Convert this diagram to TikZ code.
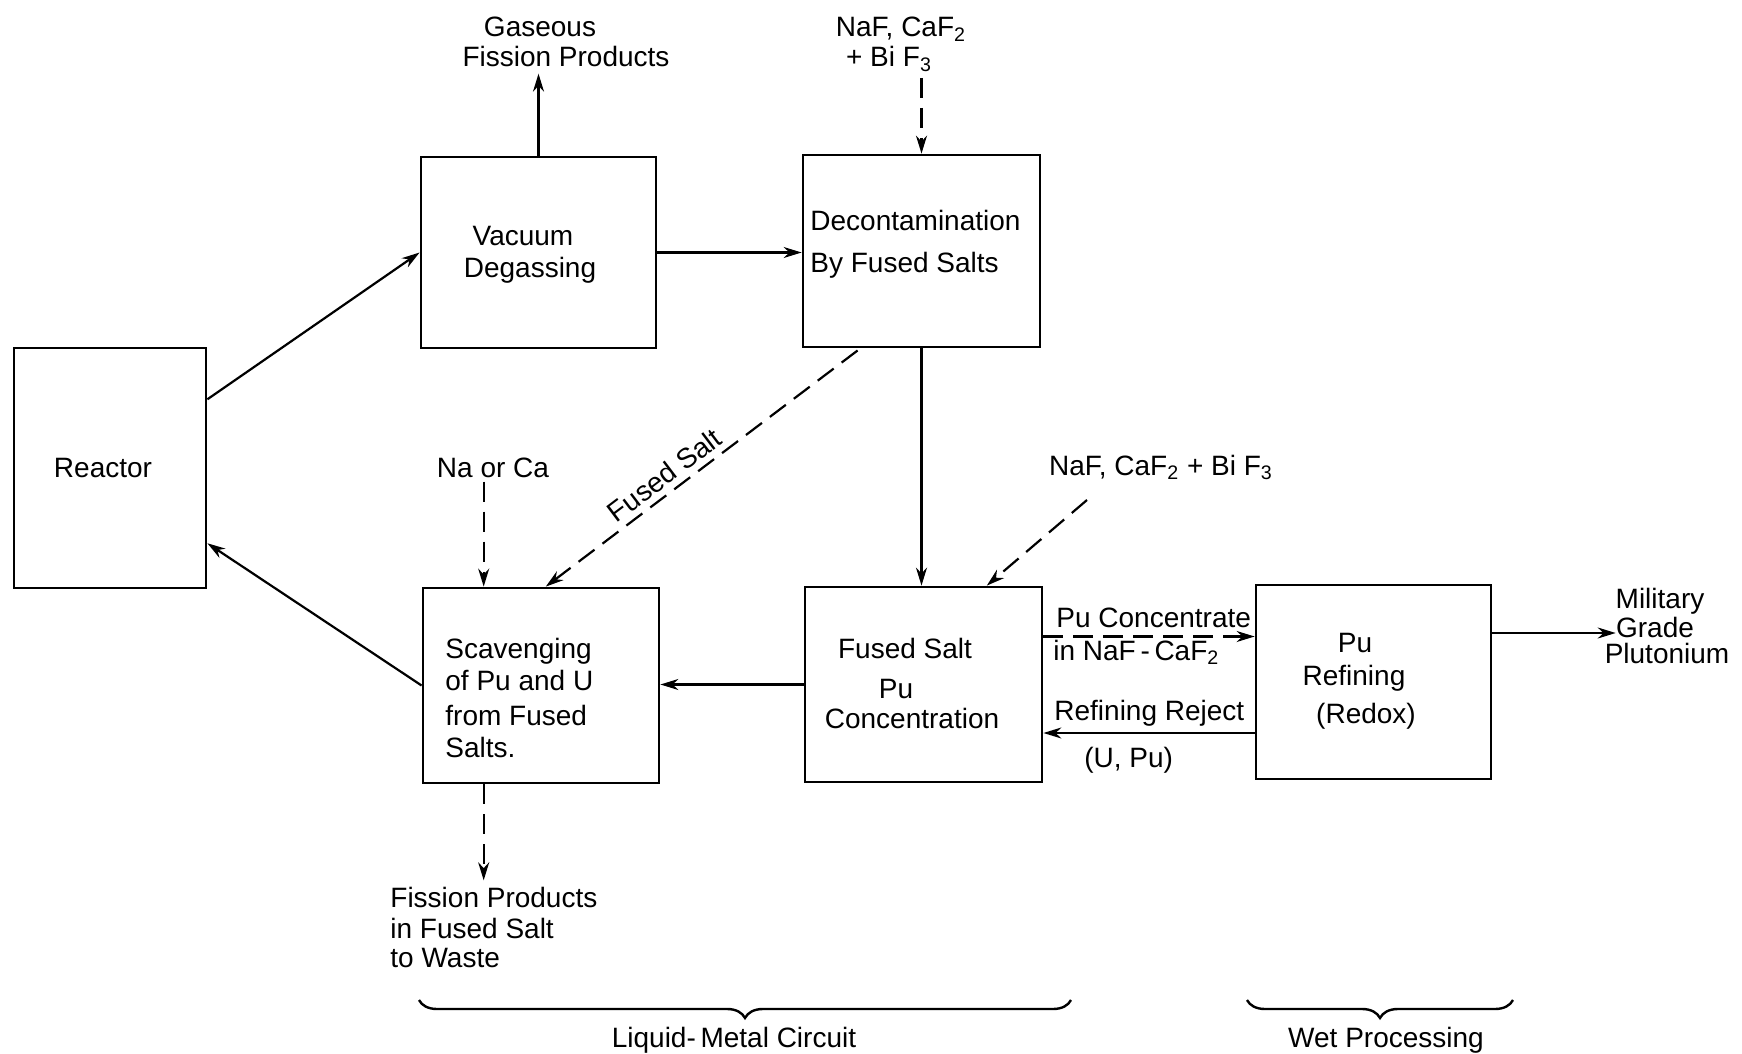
\documentclass[tikz,border=0pt]{standalone}
\usepackage{fontspec}
\setmainfont{Liberation Sans}
\usetikzlibrary{arrows.meta,calc,decorations.pathreplacing}
\begin{document}
\begin{tikzpicture}[x=0.5pt,y=-0.5pt,
  box/.style={draw, line width=1.4pt, inner sep=0pt},
  txt/.style={inner sep=0pt, font=\fontsize{14}{16.5}\selectfont},
  tl/.style={txt, anchor=base west},
  tc/.style={txt, anchor=base},
  conn/.style={line width=1.1pt, -{Stealth[length=9pt,width=5.5pt]}},
  dconn/.style={conn, dash pattern=on 10pt off 5pt},
  dconnr/.style={line width=1.1pt, dash pattern=on 10pt off 5pt, {Stealth[length=9pt,width=5.5pt]}-},
  bracestyle/.style={line width=1.2pt, decorate, decoration={brace, mirror, amplitude=9pt}}]
\useasboundingbox (0,0) rectangle (1742,1054);

% boxes
\node[box, minimum width=96pt, minimum height=120pt] (reactor) at (110,468) {};
\node[box, minimum width=117.5pt, minimum height=95.5pt] (vac) at (538.5,252.5) {};
\node[box, minimum width=118.5pt, minimum height=96pt] (decon) at (921.5,251) {};
\node[box, minimum width=118pt, minimum height=97.5pt] (scav) at (541,685.5) {};
\node[box, minimum width=118.5pt, minimum height=97.5pt] (fspu) at (923.5,684.5) {};
\node[box, minimum width=117.5pt, minimum height=97pt] (refin) at (1373.5,682) {};

% box texts
\node[tc] (reactt) at (103,477) {Reactor};
\node[tc] (vac1) at (523,245) {Vacuum};
\node[tc] (vac2) at (530,278) {Degassing};
\node[tl] (dec1) at (810,230) {Decontamination};
\node[tl] (dec2) at (810,272) {By Fused Salts};
\node[tl] (sca1) at (445,658) {Scavenging};
\node[tl] (sca2) at (445,690) {of Pu and U};
\node[tl] (sca3) at (445,725) {from Fused};
\node[tl] (sca4) at (445,757) {Salts.};
\node[tc] (fsp1) at (905,658) {Fused Salt};
\node[tc] (fsp2) at (896,698) {Pu};
\node[tc] (fsp3) at (912,728) {Concentration};
\node[tc] (ref1) at (1355,652) {Pu};
\node[tc] (ref2) at (1354,685) {Refining};
\node[tc] (ref3) at (1366,723) {(Redox)};

% free texts
\node[tc] (gas1) at (540,37) {Gaseous};
\node[tc] (gas2) at (566,67) {Fission Products};
\node[tc] (top1) at (901,37) {NaF, CaF\textsubscript{2}};
\node[tc] (top2) at (889,67) {+ Bi F\textsubscript{3}};
\node[tc] (naca) at (493,477) {Na or Ca};
\node[tc] (naf2) at (1161,475) {NaF, CaF\textsubscript{2} + Bi F\textsubscript{3}};
\node[tl] (pc1) at (1056,627) {Pu Concentrate};
\node[tl] (pc2) at (1053,660) {in NaF\,-\,CaF\textsubscript{2}};
\node[tl] (rr1) at (1054,720) {Refining Reject};
\node[tl] (rr2) at (1084,767) {(U, Pu)};
\node[tc] (mil1) at (1660,608) {Military};
\node[tc] (mil2) at (1655,637) {Grade};
\node[tc] (mil3) at (1667,663) {Plutonium};
\node[tl] (wst1) at (390,907) {Fission Products};
\node[tl] (wst2) at (390,938) {in Fused Salt};
\node[tl] (wst3) at (390,967) {to Waste};
\node[tc] (lmc) at (734,1047) {Liquid-\,Metal Circuit};
\node[tc] (wet) at (1386,1047) {Wet Processing};

% helper coordinates
\coordinate (rxA) at ($(reactor.north east)!0.217!(reactor.south east)$);
\coordinate (rxB) at ($(reactor.north east)!0.81!(reactor.south east)$);
\coordinate (dcA) at ($(decon.south west)!0.245!(decon.south east)$);
\coordinate (scA) at ($(scav.north west)!0.52!(scav.north east)$);
\coordinate (sc1) at ($(scav.north west)!0.26!(scav.north east)$);
\coordinate (sc1b) at ($(scav.south west)!0.26!(scav.south east)$);
\coordinate (fsA) at ($(fspu.north west)!0.764!(fspu.north east)$);
\coordinate (n2s) at (1087,500);
\coordinate (pcA) at ($(fspu.east)+(0,-48)$);
\coordinate (rrA) at ($(refin.west)+(0,51)$);
\coordinate (mA) at ($(refin.east)+(0,-49)$);

% connectors
\draw[conn] (rxA) -- (vac.west);
\draw[conn] (vac.east) -- (vac.east -| decon.west);
\draw[conn, shorten >=3pt] (vac.north) -- (vac.north |- gas2.south);
\draw[dconn, shorten <=3pt] (decon.north |- top2.south) -- (decon.north);
\draw[conn] (decon.south) -- (decon.south |- fspu.north);
\draw[dconnr] (scA) -- (dcA) node[pos=0.41, sloped, above=3pt, txt] (fslbl) {Fused Salt};
\draw[dconn, shorten <=2pt] (sc1 |- naca.south) -- (sc1);
\draw[dconn] (n2s) -- (fsA);
\draw[conn] (fspu.west) -- (fspu.west -| scav.east);
\draw[conn] (scav.west) -- (rxB);
\draw[dconn, shorten >=3pt] (sc1b) -- (sc1b |- wst1.north);
\draw[dconn] (pcA) -- (pcA -| refin.west);
\draw[conn] (rrA) -- (rrA -| fspu.east);
\draw[conn] (mA) -- (mA -| mil2.west);

% braces
\coordinate (b1l) at (419,1000);
\coordinate (b1r) at (1071,1000);
\coordinate (b2l) at (1247,1000);
\coordinate (b2r) at (1513,1000);
\draw[bracestyle] (b1l) -- (b1r);
\draw[bracestyle] (b2l) -- (b2r);
\end{tikzpicture}
\end{document}
